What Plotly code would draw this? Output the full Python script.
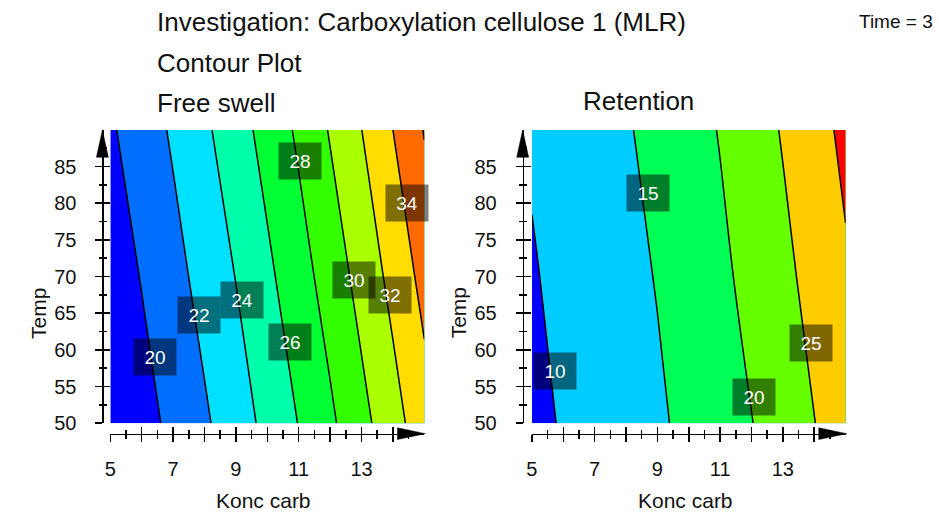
import plotly.graph_objects as go

# ---------------- data ----------------
konc_carb = [5, 6, 7, 8, 9, 10, 11, 12, 13, 14, 15]
temp = [50, 70, 90]

free_swell = [
    [18.14, 19.28, 20.47, 21.72, 23.08, 24.51, 26.06, 27.64, 29.40, 31.23, 33.17],
    [18.94, 20.09, 21.35, 22.67, 24.05, 25.60, 27.17, 28.86, 30.69, 32.58, 34.62],
    [19.75, 20.98, 22.26, 23.64, 25.15, 26.71, 28.33, 30.15, 31.98, 34.00, 36.10],
]
retention = [
    [9.12, 10.26, 11.63, 12.99, 14.36, 16.02, 17.94, 19.87, 22.36, 24.90, 27.73],
    [9.65, 11.05, 12.42, 13.78, 15.21, 17.13, 19.06, 21.29, 23.83, 26.53, 29.38],
    [10.48, 11.84, 13.21, 14.58, 16.33, 18.25, 20.23, 22.77, 25.34, 28.18, 31.08],
]

fs_levels = dict(start=20, end=36, size=2)
rt_levels = dict(start=10, end=30, size=5)

fs_colors = ["#0000FF", "#006EFF", "#00E0FF", "#00FFAA", "#00FF33",
             "#33FF00", "#AAFF00", "#FFDD00", "#FF6A00", "#FF0000"]
rt_colors = ["#0000FF", "#00CCFF", "#00FF55", "#66FF00", "#FFCC00", "#FF0000"]

# contour label texts and their anchor points (data coords)
fs_label_text = ["20", "22", "24", "26", "28", "30", "32", "34"]
fs_label_x = [6.43, 7.81, 9.19, 10.72, 11.04, 12.77, 13.92, 14.45]
fs_label_y = [59.06, 64.70, 66.75, 61.08, 85.69, 69.46, 67.46, 80.01]
rt_label_text = ["10", "15", "20", "25"]
rt_label_x = [5.73, 8.69, 12.09, 13.89]
rt_label_y = [57.09, 81.46, 53.60, 60.99]

x_major = [5, 6, 7, 8, 9, 10, 11, 12, 13, 14]
x_major_text = ["5", "", "7", "", "9", "", "11", "", "13", ""]
x_minor = [5.5, 6.5, 7.5, 8.5, 9.5, 10.5, 11.5, 12.5, 13.5, 14.5]
y_major = [50, 55, 60, 65, 70, 75, 80, 85]
y_minor = [52.5, 57.5, 62.5, 67.5, 72.5, 77.5, 82.5, 87.5]

# ---------------- layout geometry (pixels) ----------------
W, H = 939, 521
FONT = "Liberation Sans, Arial, sans-serif"
def px(x): return x / W
def py(y): return 1 - y / H

left_plot = (105, 421)
right_plot = (529.3, 845)
plot_top, plot_bot = 132.7, 432.3
x_axis_y = 443
y_axis_x = {"left": 97, "right": 520}


def scale(colors):
    n = len(colors) - 1
    return [[i / n, c] for i, c in enumerate(colors)]


fig = go.Figure()
fig.add_trace(go.Contour(
    x=konc_carb, y=temp, z=free_swell, xaxis="x", yaxis="y",
    autocontour=False, contours=dict(coloring="fill", **fs_levels),
    colorscale=scale(fs_colors), showscale=False,
    line=dict(color="black", width=1.5), hoverinfo="skip"))
fig.add_trace(go.Contour(
    x=konc_carb, y=temp, z=retention, xaxis="x2", yaxis="y2",
    autocontour=False, contours=dict(coloring="fill", **rt_levels),
    colorscale=scale(rt_colors), showscale=False,
    line=dict(color="black", width=1.5), hoverinfo="skip"))

# dummy traces so that the overlay (inside-tick) axes exist
for xa, ya in [("x3", "y"), ("x", "y3"), ("x4", "y2"), ("x2", "y4")]:
    fig.add_trace(go.Scatter(x=[None], y=[None], xaxis=xa, yaxis=ya,
                             showlegend=False, hoverinfo="skip"))

tick_font = dict(family=FONT, size=20, color="#111")
common_x = dict(range=[5, 15], tickmode="array", tickvals=x_major,
                ticklen=7, tickwidth=1.5, tickcolor="black",
                showgrid=False, zeroline=False, fixedrange=True)
common_y = dict(range=[50, 90], tickmode="array", tickvals=y_major,
                ticklen=7, tickwidth=1.5, tickcolor="black",
                showgrid=False, zeroline=False, fixedrange=True)

def xaxis_main(dom):
    return dict(common_x, domain=[px(dom[0]), px(dom[1])], anchor="free",
                position=py(x_axis_y), ticks="outside", ticktext=x_major_text,
                showline=True, linecolor="black", linewidth=1.5,
                tickfont=tick_font, ticklabelstandoff=10,
                minor=dict(tickmode="array", tickvals=x_minor, ticks="outside",
                           ticklen=3.5, tickwidth=1.5, tickcolor="black"))

def xaxis_over(base):
    return dict(common_x, overlaying=base, anchor="free", position=py(x_axis_y),
                ticks="inside", showticklabels=False, showline=False,
                minor=dict(tickmode="array", tickvals=x_minor, ticks="inside",
                           ticklen=3.5, tickwidth=1.5, tickcolor="black"))

def yaxis_main(xpos):
    return dict(common_y, domain=[py(plot_bot), py(plot_top)], anchor="free",
                position=px(xpos), ticks="outside",
                showline=True, linecolor="black", linewidth=1.5,
                tickfont=tick_font, ticklabelstandoff=15,
                minor=dict(tickmode="array", tickvals=y_minor, ticks="outside",
                           ticklen=3.5, tickwidth=1.5, tickcolor="black"))

def yaxis_over(base, xpos):
    return dict(common_y, overlaying=base, anchor="free", position=px(xpos),
                ticks="inside", showticklabels=False, showline=False,
                minor=dict(tickmode="array", tickvals=y_minor, ticks="inside",
                           ticklen=3.5, tickwidth=1.5, tickcolor="black"))

fig.update_layout(
    width=W, height=H, margin=dict(l=0, r=0, t=0, b=0),
    paper_bgcolor="white", plot_bgcolor="white", showlegend=False,
    xaxis=xaxis_main(left_plot), xaxis2=xaxis_main(right_plot),
    xaxis3=xaxis_over("x"), xaxis4=xaxis_over("x2"),
    yaxis=yaxis_main(y_axis_x["left"]), yaxis2=yaxis_main(y_axis_x["right"]),
    yaxis3=yaxis_over("y", y_axis_x["left"]), yaxis4=yaxis_over("y2", y_axis_x["right"]),
)

# arrow heads on the axes
shapes = []
for key, (l, r) in (("left", left_plot), ("right", right_plot)):
    ax = y_axis_x[key]
    shapes.append(dict(type="path", xref="paper", yref="paper",
                       path=f"M {px(ax)} {py(plot_top)} L {px(ax-6)} {py(plot_top+28)} "
                            f"L {px(ax+6)} {py(plot_top+28)} Z",
                       fillcolor="black", line=dict(color="black", width=0.5)))
    shapes.append(dict(type="path", xref="paper", yref="paper",
                       path=f"M {px(r+1)} {py(x_axis_y)} L {px(r-27)} {py(x_axis_y-6)} "
                            f"L {px(r-27)} {py(x_axis_y+6)} Z",
                       fillcolor="black", line=dict(color="black", width=0.5)))
fig.update_layout(shapes=shapes)

# contour value labels
def add_labels(texts, xs, ys, xref, yref):
    for t, x, y in zip(texts, xs, ys):
        fig.add_annotation(x=x, y=y, xref=xref, yref=yref, text=t, showarrow=False,
                           font=dict(family=FONT, size=19, color="white"),
                           bgcolor="rgba(0,0,0,0.5)", width=40, height=34,
                           borderpad=1, xanchor="center", yanchor="middle")

add_labels(fs_label_text, fs_label_x, fs_label_y, "x", "y")
add_labels(rt_label_text, rt_label_x, rt_label_y, "x2", "y2")

# titles and axis titles
def text(t, x, y, size, xanchor="left", angle=0):
    fig.add_annotation(x=px(x), y=py(y), xref="paper", yref="paper", text=t,
                       showarrow=False, xanchor=xanchor, yanchor="middle",
                       textangle=angle, font=dict(family=FONT, size=size, color="#111"))

text("Investigation: Carboxylation cellulose 1 (MLR)", 150, 22, 26)
text("Contour Plot", 150, 64, 26)
text("Free swell", 150, 105, 26)
text("Retention", 579, 103, 26)
text("Time = 3", 856, 22, 19)
text("Konc carb", 259, 511, 21, xanchor="center")
text("Konc carb", 684, 511, 21, xanchor="center")
text("Temp", 32, 320, 21, xanchor="center", angle=-90)
text("Temp", 455, 320, 21, xanchor="center", angle=-90)

fig.write_html("out.html",
               config={"displayModeBar": False, "staticPlot": True},
               post_script="document.body.style.margin='0';"
                           "document.body.style.overflow='hidden';")
